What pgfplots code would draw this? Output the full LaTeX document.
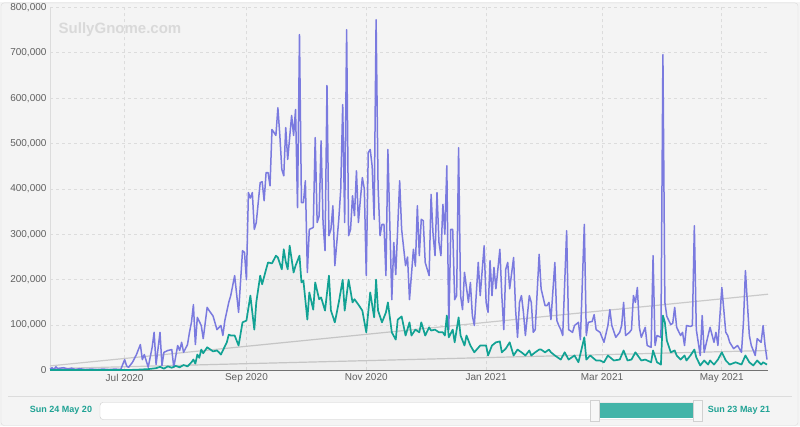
\documentclass[border=0pt]{standalone}
\usepackage{fontspec}
\setmainfont{Liberation Sans}
\usepackage{pgfplots}
\usepackage{pgfplotstable}
\pgfplotsset{compat=1.18}

\definecolor{purp}{HTML}{7A7ADF}
\definecolor{tealline}{HTML}{12A294}
\definecolor{bgc}{HTML}{F4F4F4}
\definecolor{gridc}{HTML}{DCDCDC}
\definecolor{labc}{HTML}{606060}
\definecolor{trendc}{HTML}{CACACA}
\definecolor{navteal}{HTML}{43B4A8}
\definecolor{navtext}{HTML}{1FA294}

% day 0 = Sun 24 May 2020
\pgfplotstableread{
d v
0 3000
1 6000
2 2000
3 8000
4 4000
5 5000
7 6000
9 3000
11 5000
13 2000
15 4000
18 2000
21 3000
24 2000
27 3000
30 2000
33 3000
36 2000
38 24000
39 10000
40 7000
42 18000
44 35000
46 57000
47 24000
48 35000
50 7000
52 51000
53 84000
54 13000
56 84000
57 11000
58 40000
60 44000
62 46000
63 7000
65 55000
66 44000
67 62000
68 40000
70 57000
71 84000
72 106000
73 145000
74 57000
75 117000
77 99000
78 70000
80 139000
81 132000
83 120000
85 90000
87 99000
88 77000
89 110000
91 150000
92 165000
94 209000
96 128000
98 264000
99 260000
100 200000
101 392000
102 380000
103 392000
104 311000
105 326000
107 414000
108 416000
109 374000
110 436000
111 436000
112 407000
113 531000
115 518000
116 579000
117 518000
118 443000
119 429000
120 535000
121 465000
123 562000
124 518000
125 575000
126 359000
127 740000
128 370000
129 370000
130 418000
131 216000
132 311000
134 315000
135 513000
136 326000
137 340000
138 506000
139 326000
140 264000
141 628000
142 297000
143 311000
144 363000
145 231000
147 333000
148 399000
149 586000
150 326000
151 751000
152 297000
153 311000
154 385000
155 341000
156 440000
157 326000
158 377000
159 425000
160 400000
161 209000
162 480000
163 487000
164 450000
165 333000
166 773000
167 407000
168 297000
169 322000
170 322000
171 209000
172 487000
173 320000
174 156000
175 282000
176 211000
178 418000
179 311000
181 231000
182 250000
183 156000
185 267000
186 230000
187 363000
188 253000
189 333000
190 330000
191 238000
193 209000
194 388000
195 300000
196 253000
197 392000
198 282000
199 253000
200 366000
201 300000
202 451000
203 90000
204 311000
205 311000
206 156000
207 165000
208 491000
209 165000
210 134000
211 216000
213 150000
214 194000
215 121000
216 99000
218 238000
219 165000
221 275000
222 150000
223 128000
224 242000
225 165000
226 227000
227 180000
229 267000
230 165000
231 90000
232 223000
233 238000
234 180000
236 249000
237 134000
238 73000
239 150000
240 165000
241 128000
242 77000
244 165000
245 150000
246 84000
247 90000
249 256000
250 180000
252 143000
253 143000
254 150000
255 112000
257 238000
258 110000
259 99000
260 90000
261 77000
263 308000
264 90000
266 84000
267 99000
269 106000
270 68000
272 322000
273 77000
274 106000
276 108000
277 123000
278 90000
280 84000
282 62000
284 99000
285 134000
286 99000
288 73000
290 84000
291 99000
292 150000
293 77000
295 84000
296 90000
297 165000
298 150000
299 183000
300 95000
301 73000
303 95000
304 55000
306 51000
307 253000
308 55000
309 77000
311 73000
312 696000
313 150000
314 119000
316 101000
317 104000
318 139000
319 95000
321 77000
322 84000
323 55000
324 99000
326 97000
327 99000
328 319000
329 90000
331 33000
332 121000
333 40000
335 77000
336 95000
338 62000
339 84000
340 55000
342 183000
344 84000
345 77000
346 62000
348 48000
350 55000
352 40000
353 106000
354 220000
356 77000
357 55000
359 33000
360 70000
362 62000
363 99000
364 55000
365 24000
}\viewers

\pgfplotstableread{
d v
0 1000
10 1000
20 1000
30 1000
40 1000
46 2000
50 3000
54 5000
56 8000
58 4000
60 9000
62 6000
64 10000
66 7000
68 12000
70 9000
72 18000
73 24000
74 15000
75 35000
76 28000
77 46000
78 38000
80 51000
81 48000
83 42000
85 44000
86 40000
87 35000
88 44000
90 62000
91 79000
92 77000
94 77000
96 55000
98 106000
100 110000
102 165000
104 90000
105 150000
107 209000
108 190000
110 223000
111 238000
113 236000
115 253000
116 249000
118 223000
119 267000
120 240000
121 223000
122 275000
124 216000
125 231000
127 253000
128 194000
129 198000
131 112000
132 172000
134 134000
135 194000
137 157000
138 161000
140 132000
142 209000
143 132000
145 106000
147 150000
149 200000
150 132000
152 200000
154 150000
155 157000
157 145000
159 132000
161 84000
163 172000
165 117000
166 200000
167 132000
169 106000
171 128000
172 150000
174 84000
176 68000
177 112000
179 119000
181 77000
183 106000
184 77000
186 90000
188 84000
189 106000
191 77000
193 95000
194 88000
196 90000
198 84000
200 84000
201 77000
202 121000
203 73000
205 90000
206 62000
208 117000
209 77000
211 55000
212 77000
214 55000
216 40000
219 55000
222 55000
223 33000
225 55000
227 62000
229 64000
230 40000
232 48000
234 62000
236 33000
238 46000
240 40000
242 33000
244 44000
245 33000
247 40000
249 46000
250 46000
252 40000
254 46000
255 40000
257 33000
260 24000
262 40000
264 24000
267 33000
269 18000
272 73000
273 24000
275 33000
278 22000
280 22000
282 18000
284 33000
287 22000
290 24000
292 44000
294 22000
296 24000
298 40000
301 22000
303 24000
306 18000
307 44000
309 18000
311 13000
312 121000
313 106000
314 66000
316 40000
318 44000
319 33000
321 24000
323 33000
324 22000
326 33000
328 46000
329 29000
331 11000
333 22000
335 13000
336 22000
338 13000
340 24000
342 40000
344 22000
346 13000
349 18000
352 13000
354 33000
356 18000
358 11000
360 22000
362 13000
363 18000
365 13000
}\channels

\begin{document}
\begin{tikzpicture}
% page background and frame
\fill[bgc] (0pt,0pt) rectangle (800pt,424pt);
\draw[gridc, rounded corners=3pt] (1pt,1pt) rectangle (798pt,423.5pt);
\draw[gridc] (8pt,30pt) -- (792pt,30pt);

\begin{axis}[
    at={(50pt,56pt)}, anchor=south west,
    width=718pt, height=363pt, scale only axis,
    xmin=0, xmax=365.5,
    ymin=0, ymax=800000,
    axis lines=left,
    axis line style={-},
    x axis line style={draw=black!55},
    y axis line style={draw=gridc},
    xtick={38,100,161,222,281,342},
    xticklabels={Jul 2020,Sep 2020,Nov 2020,Jan 2021,Mar 2021,May 2021},
    ytick={0,100000,...,800000},
    scaled y ticks=false,
    yticklabel style={/pgf/number format/.cd, fixed, 1000 sep={,}, assume math mode=true},
    tick label style={font=\fontsize{10}{12}\selectfont, text=labc},
    major tick length=0pt,
    xmajorgrids, ymajorgrids,
    major grid style={gridc, dash pattern=on 3pt off 3pt, line width=0.7pt},
    clip=false,
]
\addplot[trendc, line width=1.2pt] coordinates {(0,10000) (365.5,168000)};
\addplot[trendc, line width=1.2pt] coordinates {(0,4000) (365.5,44000)};
\addplot[draw=none, fill=black, fill opacity=0.022] table[x=d, y=v] {\channels} \closedcycle;
\addplot[purp, line width=1.5pt, line join=round] table[x=d, y=v] {\viewers};
\addplot[tealline, line width=1.7pt, line join=round] table[x=d, y=v] {\channels};
\end{axis}

% watermark
\node[text=black!15, font=\bfseries\fontsize{15}{17}\selectfont] at (120pt,397pt) {SullyGnome.com};

% navigator
\draw[black!20, fill=white, rounded corners=3pt] (100pt,7pt) rectangle (702pt,24pt);
\fill[navteal] (599pt,8pt) rectangle (693pt,23pt);
\draw[black!18, fill=black!3] (590pt,5pt) rectangle (599pt,26pt);
\draw[black!18, fill=black!3] (693pt,5pt) rectangle (702pt,26pt);
\node[text=navtext, font=\bfseries\fontsize{9}{11}\selectfont] at (61pt,16pt) {Sun 24 May 20};
\node[text=navtext, font=\bfseries\fontsize{9}{11}\selectfont] at (739pt,16pt) {Sun 23 May 21};
\end{tikzpicture}
\end{document}
